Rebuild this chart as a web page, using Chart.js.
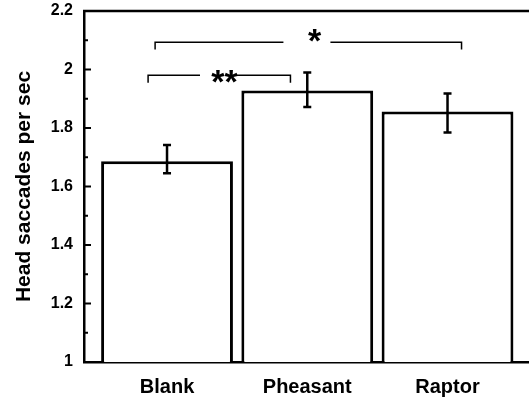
<!DOCTYPE html>
<html>
<head>
<meta charset="utf-8">
<script src="https://cdn.jsdelivr.net/npm/chart.js@4"></script>
<style>
  body { margin: 0; background: #fff; }
  #wrap { width: 529px; height: 399px; position: relative; }
</style>
</head>
<body>
<div id="wrap"><canvas id="chart"></canvas></div>
<script>
// data
const groups = ["Blank", "Pheasant", "Raptor"];
const means = [1.686, 1.928, 1.856];
const errLow = [1.645, 1.872, 1.785];
const errHigh = [1.742, 1.99, 1.918];

// significance brackets (x in category units, y in data units)
const sigText = ["**", "*"];
const sigFrom = [-0.135, -0.085];
const sigTo = [0.88, 2.1];
const sigLevel = [1.98, 2.093];
const sigDrop = [1.955, 2.068];
const sigGapFrom = [0.235, 0.83];
const sigGapTo = [0.48, 1.165];
const sigMarkX = [0.41, 1.052];
const sigMarkY = [1.967, 2.107];

const black = "#000";
const font = "'Liberation Sans', Arial, sans-serif";

// ticks inside the y axis + top frame line (no right side)
const frame = {
  id: "frame",
  afterDraw(chart) {
    const ctx = chart.ctx, a = chart.chartArea, y = chart.scales.y;
    ctx.save();
    ctx.fillStyle = "#fff";
    ctx.fillRect(a.right - 4, a.top + 2, 4, a.bottom - a.top - 4);
    ctx.beginPath();
    ctx.strokeStyle = black;
    ctx.lineWidth = 2.5;
    ctx.moveTo(a.left - 1, a.top);
    ctx.lineTo(a.right, a.top);
    ctx.stroke();
    ctx.lineWidth = 2;
    y.ticks.forEach(t => {
      const py = y.getPixelForValue(t.value);
      const major = Math.round(t.value * 10) % 2 === 0;
      ctx.beginPath();
      ctx.moveTo(a.left, py);
      ctx.lineTo(a.left + (major ? 7 : 4), py);
      ctx.stroke();
    });
    ctx.beginPath();
    ctx.restore();
  }
};

// error bars + significance brackets
const extras = {
  id: "extras",
  afterDatasetsDraw(chart) {
    const ctx = chart.ctx, x = chart.scales.x, y = chart.scales.y;
    ctx.save();
    ctx.beginPath();
    ctx.strokeStyle = black;
    ctx.lineWidth = 2.5;
    groups.forEach((g, i) => {
      const px = x.getPixelForValue(i);
      const lo = y.getPixelForValue(errLow[i]);
      const hi = y.getPixelForValue(errHigh[i]);
      ctx.beginPath();
      ctx.moveTo(px, lo); ctx.lineTo(px, hi);
      ctx.moveTo(px - 4, lo); ctx.lineTo(px + 4, lo);
      ctx.moveTo(px - 4, hi); ctx.lineTo(px + 4, hi);
      ctx.stroke();
    });
    ctx.lineWidth = 1.5;
    ctx.fillStyle = black;
    ctx.font = "bold 34px " + font;
    ctx.textAlign = "center";
    ctx.textBaseline = "middle";
    sigText.forEach((s, i) => {
      const x0 = x.getPixelForValue(sigFrom[i]);
      const x1 = x.getPixelForValue(sigTo[i]);
      const g0 = x.getPixelForValue(sigGapFrom[i]);
      const g1 = x.getPixelForValue(sigGapTo[i]);
      const ly = y.getPixelForValue(sigLevel[i]);
      const dy = y.getPixelForValue(sigDrop[i]);
      ctx.beginPath();
      ctx.moveTo(x0, dy); ctx.lineTo(x0, ly); ctx.lineTo(g0, ly);
      ctx.moveTo(g1, ly); ctx.lineTo(x1, ly); ctx.lineTo(x1, dy);
      ctx.stroke();
      ctx.fillText(s, x.getPixelForValue(sigMarkX[i]), y.getPixelForValue(sigMarkY[i]) + 4);
    });
    ctx.beginPath();
    ctx.restore();
  }
};

new Chart(document.getElementById("chart"), {
  type: "bar",
  data: {
    datasets: [{
      data: means.map((v, i) => ({ x: i, y: v })),
      backgroundColor: "#fff",
      borderColor: black,
      borderWidth: 3,
      barPercentage: 0.94,
      categoryPercentage: 1,
      base: 1
    }]
  },
  options: {
    responsive: true,
    maintainAspectRatio: false,
    animation: false,
    layout: { padding: { top: 11, right: 0, bottom: 0, left: 0 } },
    plugins: { legend: { display: false }, tooltip: { enabled: false } },
    scales: {
      x: {
        type: "linear",
        offset: false,
        min: -0.592,
        max: 2.581,
        grid: { display: false, drawTicks: false },
        border: { display: true, color: black, width: 2.5 },
        afterBuildTicks(s) { s.ticks = groups.map((g, i) => ({ value: i })); },
        afterFit(s) { s.height = 37; s.paddingLeft = 0; s.paddingRight = 0; },
        ticks: {
          color: black,
          padding: 13,
          font: { family: font, size: 20, weight: "bold" },
          callback: v => groups[v]
        }
      },
      y: {
        min: 1,
        max: 2.2,
        grid: { display: false, drawTicks: false },
        border: { display: true, color: black, width: 2.5 },
        afterFit(s) { s.width = 84; s.paddingTop = 0; s.paddingBottom = 0; },
        ticks: {
          stepSize: 0.1,
          autoSkip: false,
          color: black,
          padding: 11,
          font: { family: font, size: 16, weight: "bold" },
          callback: v => Math.round(v * 10) % 2 === 0 ? String(Math.round(v * 10) / 10) : ""
        },
        title: {
          display: true,
          text: "Head saccades per sec",
          color: black,
          padding: { top: 12, bottom: 0 },
          font: { family: font, size: 21, weight: "bold" }
        }
      }
    }
  },
  plugins: [frame, extras]
});
</script>
</body>
</html>
